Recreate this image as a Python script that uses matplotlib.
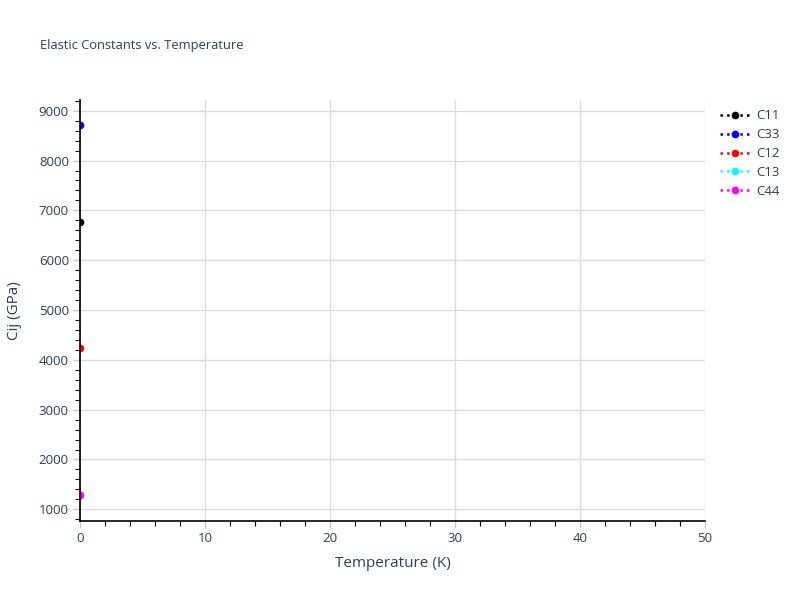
import matplotlib
matplotlib.use("Agg")
import matplotlib.pyplot as plt
from matplotlib.ticker import MultipleLocator

plt.rcParams['font.family'] = ['Open Sans', 'DejaVu Sans']

temperature = [0]
series_names = ["C11", "C33", "C12", "C13", "C44"]
series_colors = ["black", "blue", "red", "cyan", "magenta"]
c11 = [6765]
c33 = [8719]
c12 = [4229]
c13 = [1287]
c44 = [1287]
values = [c11, c33, c12, c13, c44]

text_color = "#2a3f5f"

fig = plt.figure(figsize=(8, 6), dpi=100)
ax = fig.add_axes([0.1, 0.1325, 0.78125, 0.7008])

for name, col, vals in zip(series_names, series_colors, values):
    ax.plot(temperature, vals, linestyle=':', color=col, marker='o',
            markersize=4.5, linewidth=1.8, label=name, clip_on=True, zorder=3)

ax.set_xlim(0, 50)
ax.set_ylim(775, 9215)
ax.xaxis.set_major_locator(MultipleLocator(10))
ax.xaxis.set_minor_locator(MultipleLocator(2))
ax.yaxis.set_major_locator(MultipleLocator(1000))
ax.yaxis.set_minor_locator(MultipleLocator(200))

ax.grid(True, which='major', color='#dcdcdc', linewidth=1)
ax.set_axisbelow(True)
for s in ['top', 'right']:
    ax.spines[s].set_visible(False)
for s in ['left', 'bottom']:
    ax.spines[s].set_color('black')
    ax.spines[s].set_linewidth(1.2)
    ax.spines[s].set_zorder(4)

ax.tick_params(which='major', length=5, color='#c8c8c8', labelcolor=text_color,
               labelsize=9.5, width=1, direction='out', pad=3)
ax.tick_params(which='minor', length=3.5, color='black', width=0.8, direction='out')

ax.set_xlabel("Temperature (K)", color=text_color, fontsize=11, labelpad=8)
ax.set_ylabel("Cij (GPa)", color=text_color, fontsize=11, labelpad=12)

fig.text(0.05, 0.925, "Elastic Constants vs. Temperature", color=text_color,
         fontsize=9.3, ha='left', va='center')

leg = ax.legend(loc='upper left', bbox_to_anchor=(1.01, 1.0), frameon=False,
                fontsize=9.5, handlelength=2.2, handletextpad=0.5,
                labelspacing=0.45, borderaxespad=0.3)
for t in leg.get_texts():
    t.set_color(text_color)

fig.savefig("out.png", dpi=100)
